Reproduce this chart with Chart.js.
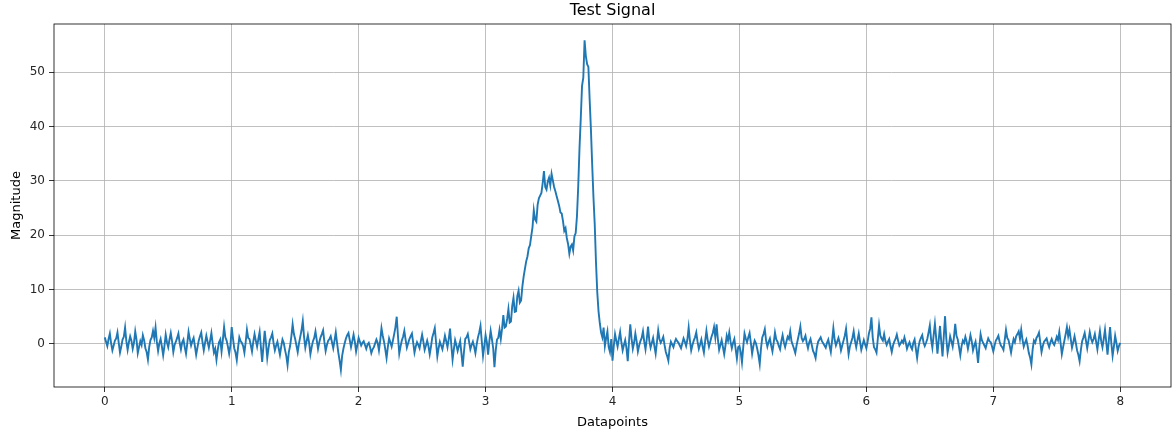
<!DOCTYPE html>
<html>
<head>
<meta charset="utf-8">
<title>Test Signal</title>
<script src="https://cdn.jsdelivr.net/npm/chart.js@4.4.1/dist/chart.umd.min.js"></script>
<style>
  html, body { margin: 0; padding: 0; background: #fff; }
  #box { width: 1172px; height: 435px; }
</style>
</head>
<body>
<div id="box"><canvas id="signalChart" width="1172" height="435"></canvas></div>
<script>
'use strict';

// samples are 0.01 apart, starting at x = 0
var sampleStart = 0;
var sampleStep = 0.01;

var signal0 = [ // 0.00 .. 0.99
  1.2, 0.4, -0.4, 0.9, 1.9, 0.1, -1.2, -0.3, 0.6, 1.0,
  2.1, 0.2, -1.6, -0.5, 0.8, 1.3, 3.0, 0.5, -1.1, 0.3,
  1.4, 0.6, -0.9, 0.2, 2.3, 0.8, -1.7, -0.6, 0.5, -0.2,
  1.6, 0.7, -0.8, -1.5, -2.9, -0.6, 0.7, 1.2, 2.4, 1.1,
  3.0, 0.4, -1.3, 0.1, 0.9, -0.5, -2.1, -0.4, 1.7, 0.3,
  -0.6, 0.8, 2.0, 0.5, -1.5, -0.2, 0.4, 1.1, 1.9, 0.2,
  -1.0, 0.3, 0.8, -0.6, -1.8, 0.1, 2.2, 0.9, -0.3, 0.5,
  1.1, -0.4, -2.0, -0.7, 0.6, 1.4, 2.1, 0.3, -1.2, 0.2,
  1.5, 0.4, -0.7, 0.6, 2.0, 0.1, -1.6, -0.9, -2.9, -1.1,
  0.3, 0.8, -1.4, 0.7, 3.1, 1.2, 0.6, -0.5, -1.8, -0.3
];
var signal1 = [ // 1.00 .. 1.99
  3.1, 1.0, -0.8, -1.6, -3.0, -0.7, 1.2, 0.5, 0.2, -0.4,
  -1.6, 0.3, 2.6, 1.1, 0.9, -0.2, -1.4, 0.4, 1.8, 0.6,
  -0.5, 0.9, 2.2, -0.6, -3.3, -0.4, 2.4, 0.2, -2.6, -0.8,
  0.7, 1.2, 1.9, 0.1, -1.2, -0.3, 0.4, -0.8, -2.0, -0.5,
  0.8, 0.2, -1.1, -2.2, -3.9, -1.5, -0.4, 1.4, 3.6, 1.8,
  0.9, -0.3, -1.5, 0.1, 1.3, 2.5, 4.2, 1.3, -0.7, 0.5,
  1.6, 0.2, -1.9, -0.6, 0.5, 1.1, 2.3, 0.7, -0.9, 0.3,
  1.2, 1.8, 2.5, 0.4, -1.3, -0.2, 0.6, 0.9, 1.4, 0.3,
  -0.8, 0.6, 2.1, 0.2, -1.6, -3.1, -4.8, -2.2, -0.9, 0.1,
  1.0, 1.6, 2.0, 0.7, -0.6, 0.5, 1.7, 0.4, -1.4, -0.2
];
var signal2 = [ // 2.00 .. 2.99
  1.1, 0.4, -0.3, 0.2, 0.5, -0.2, -0.9, -0.1, 0.2, -0.6,
  -1.7, -1.0, -0.6, 0.1, 0.8, 0.2, -1.2, 0.6, 2.9, 1.5,
  0.4, -1.0, -2.6, -0.6, 1.0, 0.3, -0.5, 0.6, 1.8, 3.1,
  5.0, 1.4, -1.8, -0.5, 0.6, 1.3, 2.4, 0.8, -0.7, 0.1,
  0.9, 1.4, 1.9, 0.2, -1.6, -0.5, 0.3, -0.2, -0.8, 0.5,
  1.7, 0.4, -1.1, -0.3, 0.6, -0.4, -1.9, -0.5, 1.2, 2.0,
  2.9, 0.3, -2.3, -0.8, 0.4, -0.3, -1.0, 0.2, 1.5, 0.5,
  -0.6, 0.9, 2.8, -0.2, -2.9, -1.0, 0.7, -0.2, -1.3, -0.4,
  0.5, -1.8, -4.2, -1.4, 0.9, 1.2, 1.8, 0.4, -1.0, -0.2,
  0.4, -0.5, -1.7, -0.1, 1.2, 2.1, 3.3, 0.5, -2.2, -0.4
];
var signal3 = [ // 3.00 .. 3.99, the broad hump and the sharp peak
  1.6, 0.3, -2.0, 0.5, 2.4, 0.9, -0.8, -4.3, -1.2, 0.8,
  1.1, 2.6, 0.9, 2.8, 5.3, 3.0, 3.2, 4.6, 6.4, 3.9,
  4.1, 7.0, 8.5, 5.9, 6.0, 8.8, 9.8, 7.6, 8.0, 10.6,
  12.4, 13.8, 15.2, 16.1, 17.6, 18.2, 19.9, 21.5, 24.6, 22.9,
  22.5, 25.6, 26.8, 27.3, 27.8, 29.6, 31.8, 28.9, 28.4, 29.9,
  30.6, 29.2, 31.3, 30.1, 28.9, 28.1, 27.2, 26.3, 25.4, 24.2,
  24.0, 22.6, 20.8, 21.3, 19.5, 18.4, 16.6, 17.9, 18.3, 17.2,
  19.8, 20.4, 23.5, 29.0, 36.0, 41.5, 47.5, 49.0, 55.9, 53.0,
  51.5, 51.0, 45.0, 39.5, 33.0, 27.0, 22.0, 15.0, 9.5, 6.0,
  3.8, 2.1, 1.2, 3.0, -0.4, 1.1, 2.3, -0.6, -1.5, 0.9
];
var signal4 = [ // 4.00 .. 4.99
  -3.1, -0.4, 1.8, 0.6, -0.5, 0.9, 2.2, 0.3, -1.2, -0.2,
  0.7, -0.8, -3.2, 0.4, 3.6, 1.0, -0.9, 0.2, 1.9, 0.5,
  -1.4, -0.3, 0.5, 1.1, 2.3, 0.4, -1.0, 0.9, 3.2, 0.6,
  -0.7, 0.2, 1.1, -0.4, -1.8, 0.3, 2.5, 0.9, 0.2, 0.7,
  1.3, -0.2, -1.5, -2.2, -3.1, -0.8, 0.4, -0.1, -0.6, 0.3,
  0.9, 0.5, 0.2, -0.3, -0.8, 0.1, 1.0, 0.4, -0.4, 0.8,
  3.0, 0.6, -1.2, -0.2, 0.6, 1.2, 2.1, 0.4, -0.9, -0.1,
  0.8, -0.5, -1.6, 0.5, 2.4, 0.7, -0.5, 0.4, 1.3, 2.0,
  3.1, 1.2, 3.6, 0.9, -1.1, -0.2, 0.7, -0.6, -1.9, -0.3,
  1.5, 0.6, 2.1, 0.4, -0.8, 0.2, 0.9, -0.9, -2.7, -0.6
];
var signal5 = [ // 5.00 .. 5.99
  -0.4, -1.5, -3.4, -0.6, 1.9, 1.0, 0.3, 1.2, 2.0, 0.2,
  -1.8, -0.4, 0.6, 0.1, -0.9, -2.1, -3.7, -0.8, 1.2, 1.8,
  2.7, 0.6, -0.5, 0.4, 1.0, -0.3, -1.4, 0.2, 2.1, 0.8,
  0.4, -0.4, -1.0, 0.5, 1.6, 0.3, -0.6, 0.4, 1.3, 0.9,
  2.3, 0.5, -0.2, -0.9, -1.7, -0.3, 0.8, 1.9, 3.2, 1.1,
  0.5, 0.9, 1.5, 0.2, -0.8, 0.3, 0.9, -0.2, -1.3, -1.8,
  -2.6, -0.7, 0.4, 0.8, 1.2, 0.5, 0.1, -0.3, -0.7, 0.2,
  0.8, -0.4, -1.5, 0.6, 2.9, 0.8, -0.3, 0.4, 1.1, 0.2,
  -1.2, -0.3, 0.6, 1.5, 2.8, 0.3, -1.9, -0.5, 0.3, 1.1,
  2.3, 0.6, -0.6, 0.7, 1.9, 0.4, -1.1, -0.2, 0.7, -0.1
];
var signal6 = [ // 6.00 .. 6.99
  -0.8, 0.4, 1.9, 2.8, 4.9, 1.2, -0.6, -1.0, -1.6, 0.9,
  3.4, 1.5, 1.0, 0.6, 1.8, 0.5, -0.2, 0.4, 0.9, -0.4,
  -1.5, -0.3, 0.4, 0.9, 1.7, 0.6, -0.3, 0.1, 0.6, 0.2,
  1.2, 0.3, -0.9, -0.2, 0.3, -0.5, -1.0, 0.2, 0.8, -0.9,
  -2.6, -0.7, 0.5, 1.1, 1.6, 0.3, -0.4, 0.2, 0.9, 2.1,
  3.4, 0.8, -0.7, 1.6, 3.7, 1.1, -1.8, 0.7, 3.3, 0.4,
  -2.3, 1.4, 5.1, 0.9, -1.6, -0.3, 1.4, 0.5, -0.5, 1.2,
  3.7, 1.5, 0.8, -0.6, -2.1, -0.4, 0.6, 0.2, 1.3, 0.4,
  -0.9, 0.3, 1.6, 0.5, -1.2, -0.3, 0.4, -1.3, -3.5, -0.6,
  1.8, 0.7, 0.2, -0.3, -0.8, 0.2, 1.0, 0.5, 0.3, -0.5
];
var signal7 = [ // 7.00 .. 8.00
  -1.4, -0.3, 0.6, 1.0, 1.5, 0.4, -0.3, -0.6, -1.1, 0.7,
  2.6, 1.1, 0.7, -0.4, -1.6, -0.2, 0.9, 0.3, 1.4, 1.8,
  2.3, 0.9, 2.6, 0.8, -0.5, 0.2, 0.8, -0.3, -1.7, -2.5,
  -3.8, -1.0, 0.6, 0.2, 1.1, 1.5, 2.1, 0.3, -1.5, -0.4,
  0.4, 0.7, 1.0, 0.1, -0.6, 0.3, 0.9, 0.2, -0.2, 0.5,
  1.3, 0.7, 2.2, 0.2, -1.9, -0.6, 0.6, 1.8, 3.1, 1.4,
  2.6, 0.9, -0.7, 0.3, 1.4, 0.2, -1.2, -2.0, -3.2, -1.1,
  0.5, 1.2, 2.0, 0.6, -0.8, 0.7, 2.2, 1.0, 0.3, 0.9,
  1.8, 0.4, -1.0, 0.8, 2.4, 0.5, -0.6, 0.9, 2.6, 0.3,
  -2.0, 0.6, 3.1, 0.1, -2.2, -0.5, 1.5, 0.2, -1.3, -0.4,
  0.2
];

var xTicks = [0, 1, 2, 3, 4, 5, 6, 7, 8];
var yTicks = [0, 10, 20, 30, 40, 50];

var magnitude = [].concat(signal0, signal1, signal2, signal3, signal4, signal5, signal6, signal7);
var points = magnitude.map(function(v, i){
  return {x: +(sampleStart + i*sampleStep).toFixed(2), y: v};
});

var fontFam = '"DejaVu Sans", sans-serif';

// frame on all four sides + title centred over the axes, like matplotlib
var frameBox = {
  id: 'frameBox',
  afterDraw: function(chart){
    var a = chart.chartArea, c = chart.ctx;
    c.save();
    c.strokeStyle = '#000';
    c.lineWidth = 0.8;
    c.strokeRect(a.left, a.top, a.right - a.left, a.bottom - a.top);
    c.fillStyle = '#000';
    c.font = '16px ' + fontFam;
    c.textAlign = 'center';
    c.textBaseline = 'middle';
    c.fillText('Test Signal', (a.left + a.right)/2, 11);
    c.restore();
  }
};

new Chart(document.getElementById('signalChart').getContext('2d'), {
  type: 'line',
  data: {
    datasets: [{
      data: points,
      borderColor: '#1f77b4',
      borderWidth: 1.9,
      pointRadius: 0,
      tension: 0,
      fill: false
    }]
  },
  options: {
    responsive: false,
    animation: false,
    events: [],
    layout: { padding: { left: 0, right: 1, top: 24, bottom: 0 } },
    plugins: {
      legend: { display: false },
      tooltip: { enabled: false },
      title: { display: false }
    },
    scales: {
      x: {
        type: 'linear',
        min: -0.4,
        max: 8.4,
        afterBuildTicks: function(s){ s.ticks = xTicks.map(function(v){ return {value: v}; }); },
        afterFit: function(s){ s.height = 48; },
        ticks: { color: '#262626', font: { family: fontFam, size: 12 }, padding: 3, maxRotation: 0 },
        grid: { color: '#b0b0b0', lineWidth: 0.8, tickColor: '#000', tickLength: 5, drawTicks: true },
        border: { display: false },
        title: { display: true, text: 'Datapoints', color: '#000', font: { family: fontFam, size: 13 }, padding: { top: 0, bottom: 5 } }
      },
      y: {
        type: 'linear',
        min: -7.94,
        max: 58.9,
        afterBuildTicks: function(s){ s.ticks = yTicks.map(function(v){ return {value: v}; }); },
        afterFit: function(s){ s.width = 54; },
        ticks: { color: '#262626', font: { family: fontFam, size: 12 }, padding: 4 },
        grid: { color: '#b0b0b0', lineWidth: 0.8, tickColor: '#000', tickLength: 5, drawTicks: true },
        border: { display: false },
        title: { display: true, text: 'Magnitude', color: '#000', font: { family: fontFam, size: 13 }, padding: { top: 9, bottom: 0 } }
      }
    }
  },
  plugins: [frameBox]
});
</script>
</body>
</html>
